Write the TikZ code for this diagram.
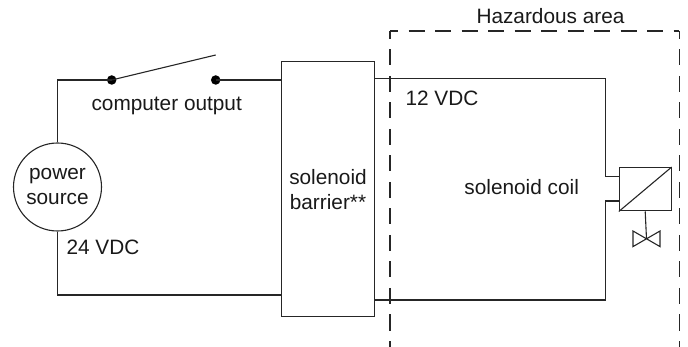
\documentclass[tikz,border=0pt]{standalone}
\usepackage{fontspec}
\setmainfont{Liberation Sans}
\begin{document}
\begin{tikzpicture}[x=1pt,y=-1pt,line width=1.1pt,
  every node/.style={font=\fontsize{20.8}{25}\selectfont, text=black!90},
  wire/.style={draw=black!85, line width=1.1pt},
  boxnode/.style={draw=black!85, line width=1.1pt, rectangle, inner sep=0pt},
  dot/.style={fill=black, circle, inner sep=0pt, minimum size=9.5pt},
  hazard/.style={draw=black!85, line width=1.1pt, dash pattern=on 16pt off 10.5pt, dash phase=8pt}]
\useasboundingbox (0,0) rectangle (688,347);
% nodes
\node[draw=black!85, line width=1.1pt, circle, minimum size=88pt, inner sep=0pt, align=center] (ps) at (57.5,187) {power\\source};
\node[boxnode, minimum width=92.6pt, minimum height=255pt, align=center] (bar) at (328,189.2) {solenoid\\barrier**};
\node[boxnode, minimum width=51.7pt, minimum height=43.3pt] (coil) at (645.2,189.3) {};
\node[dot] (sw1) at (111.7,80) {};
\node[dot] (sw2) at (215.7,80) {};
\coordinate (blade) at (215.7,55);
\coordinate (valve) at (646.5,238.8);
% hazardous area
\coordinate (hl) at (390,31);
\coordinate (hr) at (679.3,31);
\draw[hazard] (hl) -- (390,355);
\draw[hazard] (hl) -- (hr);
\draw[hazard] (hr) -- (679.3,355);
\node[anchor=base] (haz) at (550.5,23.3) {Hazardous area};
% wiring
\draw[wire] (ps.north) |- (sw1.center);
\draw[wire] (sw1.center) -- (blade);
\draw[wire] (sw2.center) -- (sw2.center -| bar.west);
\draw[wire] (ps.south) |- (bar.west |- 0,295);
\coordinate (ct) at (605.7,78.3);
\coordinate (cb) at (605.7,300);
\draw[wire] (bar.east |- ct) -- (ct) |- (coil.west |- 0,176.7);
\draw[wire] (bar.east |- cb) -- (cb) |- (coil.west |- 0,201);
% coil symbol
\draw[wire] (coil.south west) -- (coil.north east);
\draw[wire] (coil.south) -- (valve);
\draw[wire] ([shift={(-13.5,-7.8)}]valve) -- ([shift={(-13.5,7.8)}]valve) -- ([shift={(13.5,-7.8)}]valve) -- ([shift={(13.5,7.8)}]valve) -- cycle;
% labels
\node[anchor=base] (co) at (166.7,111) {computer output};
\node[anchor=base west, inner sep=0pt] (v24) at (66,255) {24 VDC};
\node[anchor=base west, inner sep=0pt] (v12) at (405,106) {12 VDC};
\node[anchor=base] (sc) at (521.7,194.5) {solenoid coil};
\end{tikzpicture}
\end{document}
